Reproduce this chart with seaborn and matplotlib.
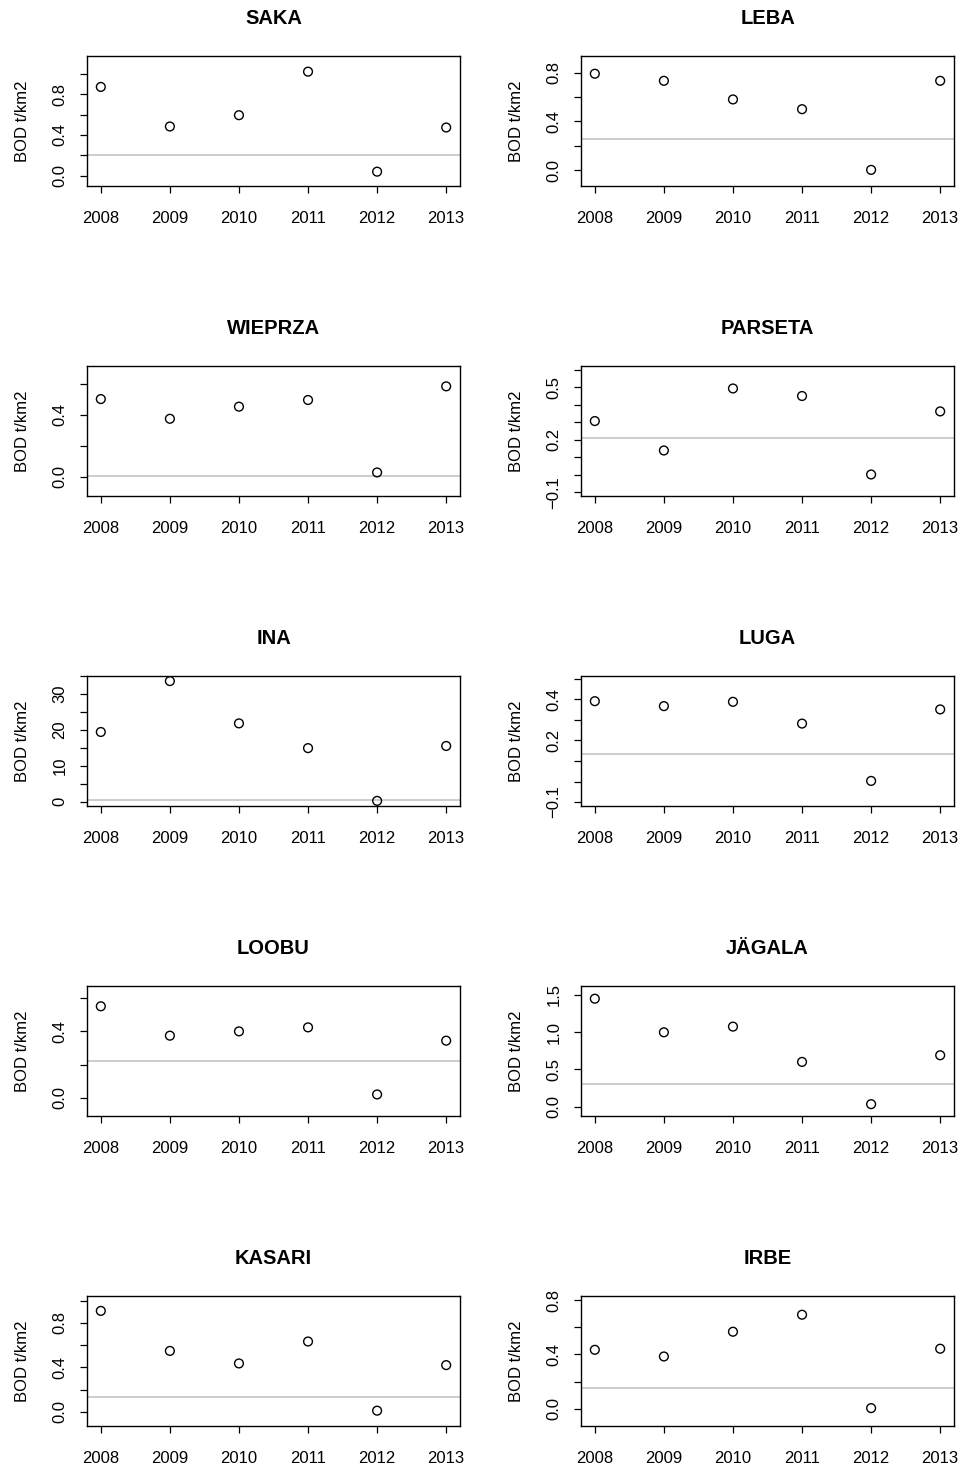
import matplotlib
matplotlib.use("Agg")
import matplotlib.pyplot as plt
import seaborn as sb
import pandas as pd

# BOD load per river and year
years = [2008, 2009, 2010, 2011, 2012, 2013]
rivers = ["SAKA", "LEBA", "WIEPRZA", "PARSETA", "INA", "LUGA", "LOOBU", "JÄGALA", "KASARI", "IRBE"]

saka = [0.872, 0.483, 0.594, 1.022, 0.039, 0.473]
leba = [0.792, 0.734, 0.581, 0.501, 0.003, 0.734]
wieprza = [0.501, 0.374, 0.452, 0.495, 0.028, 0.583]
parseta = [0.307, 0.139, 0.493, 0.450, 0.002, 0.362]
ina = [19.4, 33.6, 21.8, 14.9, 0.19, 15.5]
luga = [0.391, 0.367, 0.388, 0.282, 0.003, 0.351]
loobu = [0.551, 0.374, 0.400, 0.424, 0.020, 0.344]
jagala = [1.446, 0.997, 1.073, 0.601, 0.036, 0.690]
kasari = [0.909, 0.548, 0.435, 0.633, 0.009, 0.420]
irbe = [0.434, 0.385, 0.567, 0.692, 0.005, 0.442]

# grey reference line of each river
ref_line = [0.199, 0.260, 0.004, 0.208, 0.37, 0.135, 0.219, 0.312, 0.134, 0.152]

values = [saka, leba, wieprza, parseta, ina, luga, loobu, jagala, kasari, irbe]

# y axis: limits, tick positions and which ticks get a label
ylims = [(-0.104, 1.179), (-0.131, 0.940), (-0.125, 0.716), (-0.122, 0.623), (-1.30, 35.1),
         (-0.120, 0.515), (-0.111, 0.675), (-0.125, 1.62), (-0.131, 1.046), (-0.128, 0.832)]
yticks = [[0, 0.2, 0.4, 0.6, 0.8, 1.0],
          [0, 0.2, 0.4, 0.6, 0.8],
          [0, 0.2, 0.4, 0.6],
          [-0.1, 0, 0.1, 0.2, 0.3, 0.4, 0.5, 0.6],
          [0, 5, 10, 15, 20, 25, 30, 35],
          [-0.1, 0, 0.1, 0.2, 0.3, 0.4, 0.5],
          [0, 0.2, 0.4, 0.6],
          [0, 0.5, 1.0, 1.5],
          [0, 0.2, 0.4, 0.6, 0.8, 1.0],
          [0, 0.2, 0.4, 0.6, 0.8]]
ylabels = [["0.0", "", "0.4", "", "0.8", ""],
           ["0.0", "", "0.4", "", "0.8"],
           ["0.0", "", "0.4", ""],
           ["\u22120.1", "", "", "0.2", "", "", "0.5", ""],
           ["0", "", "10", "", "20", "", "30", ""],
           ["\u22120.1", "", "", "0.2", "", "0.4", ""],
           ["0.0", "", "0.4", ""],
           ["0.0", "0.5", "1.0", "1.5"],
           ["0.0", "", "0.4", "", "0.8", ""],
           ["0.0", "", "0.4", "", "0.8"]]

sb.set_style("ticks")
plt.rcParams['font.family'] = ['Liberation Sans', 'DejaVu Sans']
plt.rcParams['text.color'] = 'black'
plt.rcParams['axes.labelcolor'] = 'black'
plt.rcParams['xtick.color'] = 'black'
plt.rcParams['ytick.color'] = 'black'

W, H = 961, 1465
fig = plt.figure(figsize=(W / 100, H / 100), dpi=100)

col_left = [87, 581]
box_w = 373
box_h = 130.5
row_top = 55.7
row_step = 310

for i, river in enumerate(rivers):
    r, c = divmod(i, 2)
    top = row_top + r * row_step
    ax = fig.add_axes([col_left[c] / W, 1 - (top + box_h) / H, box_w / W, box_h / H])
    df = pd.DataFrame({'year': years, 'bod': values[i]})
    ax.axhline(ref_line[i], color='#BEBEBE', lw=1.1, zorder=1)
    sb.scatterplot(data=df, x='year', y='bod', ax=ax, marker='o', s=40,
                   facecolor='none', edgecolor='black', linewidth=1.0, zorder=3)
    ax.set_xlim(2007.8, 2013.2)
    ax.set_ylim(*ylims[i])
    ax.set_xticks(years)
    ax.set_xticklabels([str(y) for y in years])
    ax.set_yticks(yticks[i])
    ax.set_yticklabels(ylabels[i], rotation=90, va='center')
    ax.tick_params(axis='both', direction='out', length=5, width=0.9, colors='black', labelsize=12)
    ax.tick_params(axis='x', pad=12.5)
    ax.tick_params(axis='y', pad=9)
    for s in ax.spines.values():
        s.set_visible(True)
        s.set_linewidth(1.0)
        s.set_color('black')
    ax.set_xlabel('')
    ax.set_ylabel('BOD t/km2', fontsize=12, labelpad=16, color='black')
    ax.set_title(river, fontsize=14.5, fontweight='bold', pad=23, color='black')

fig.savefig('out.png', dpi=100)
